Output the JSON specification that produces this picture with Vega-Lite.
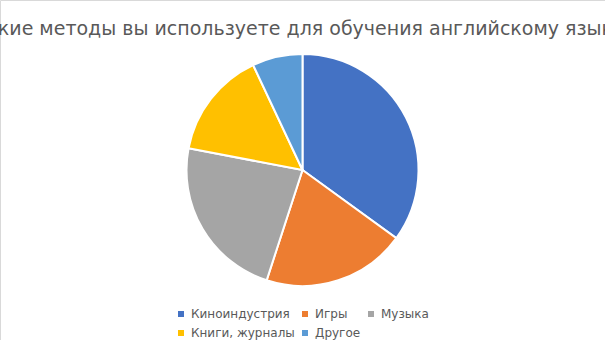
{
  "$schema": "https://vega.github.io/schema/vega-lite/v6.json",
  "width": 605,
  "height": 340,
  "autosize": {"type": "none"},
  "padding": 0,
  "background": "white",
  "view": {"stroke": "#d9d9d9", "strokeWidth": 1},
  "title": {
    "text": "Какие методы вы используете для обучения английскому языку",
    "anchor": "middle",
    "frame": "group",
    "font": "DejaVu Sans",
    "fontSize": 19,
    "fontWeight": "normal",
    "color": "#595959",
    "baseline": "alphabetic",
    "offset": -54,
    "dx": -4
  },
  "data": {
    "values": [
      {"method": "Киноиндустрия", "value": 35, "order": 1},
      {"method": "Игры", "value": 20, "order": 2},
      {"method": "Музыка", "value": 23, "order": 3},
      {"method": "Книги, журналы", "value": 15, "order": 4},
      {"method": "Другое", "value": 7, "order": 5}
    ]
  },
  "mark": {"type": "arc", "radius": 116, "stroke": "white", "strokeWidth": 2},
  "encoding": {
    "theta": {"field": "value", "type": "quantitative", "stack": true},
    "order": {"field": "order", "type": "quantitative"},
    "color": {
      "field": "method",
      "type": "nominal",
      "scale": {
        "domain": ["Киноиндустрия", "Игры", "Музыка", "Книги, журналы", "Другое"],
        "range": ["#4472C4", "#ED7D31", "#A5A5A5", "#FFC000", "#5B9BD5"]
      },
      "legend": {
        "title": null,
        "orient": "none",
        "legendX": 175,
        "legendY": 308,
        "direction": "horizontal",
        "columns": 3,
        "symbolType": "square",
        "symbolSize": 36,
        "symbolStrokeWidth": 0,
        "labelFont": "DejaVu Sans",
        "labelFontSize": 12,
        "labelColor": "#595959",
        "labelOffset": 4,
        "columnPadding": 4,
        "rowPadding": 7
      }
    }
  }
}
